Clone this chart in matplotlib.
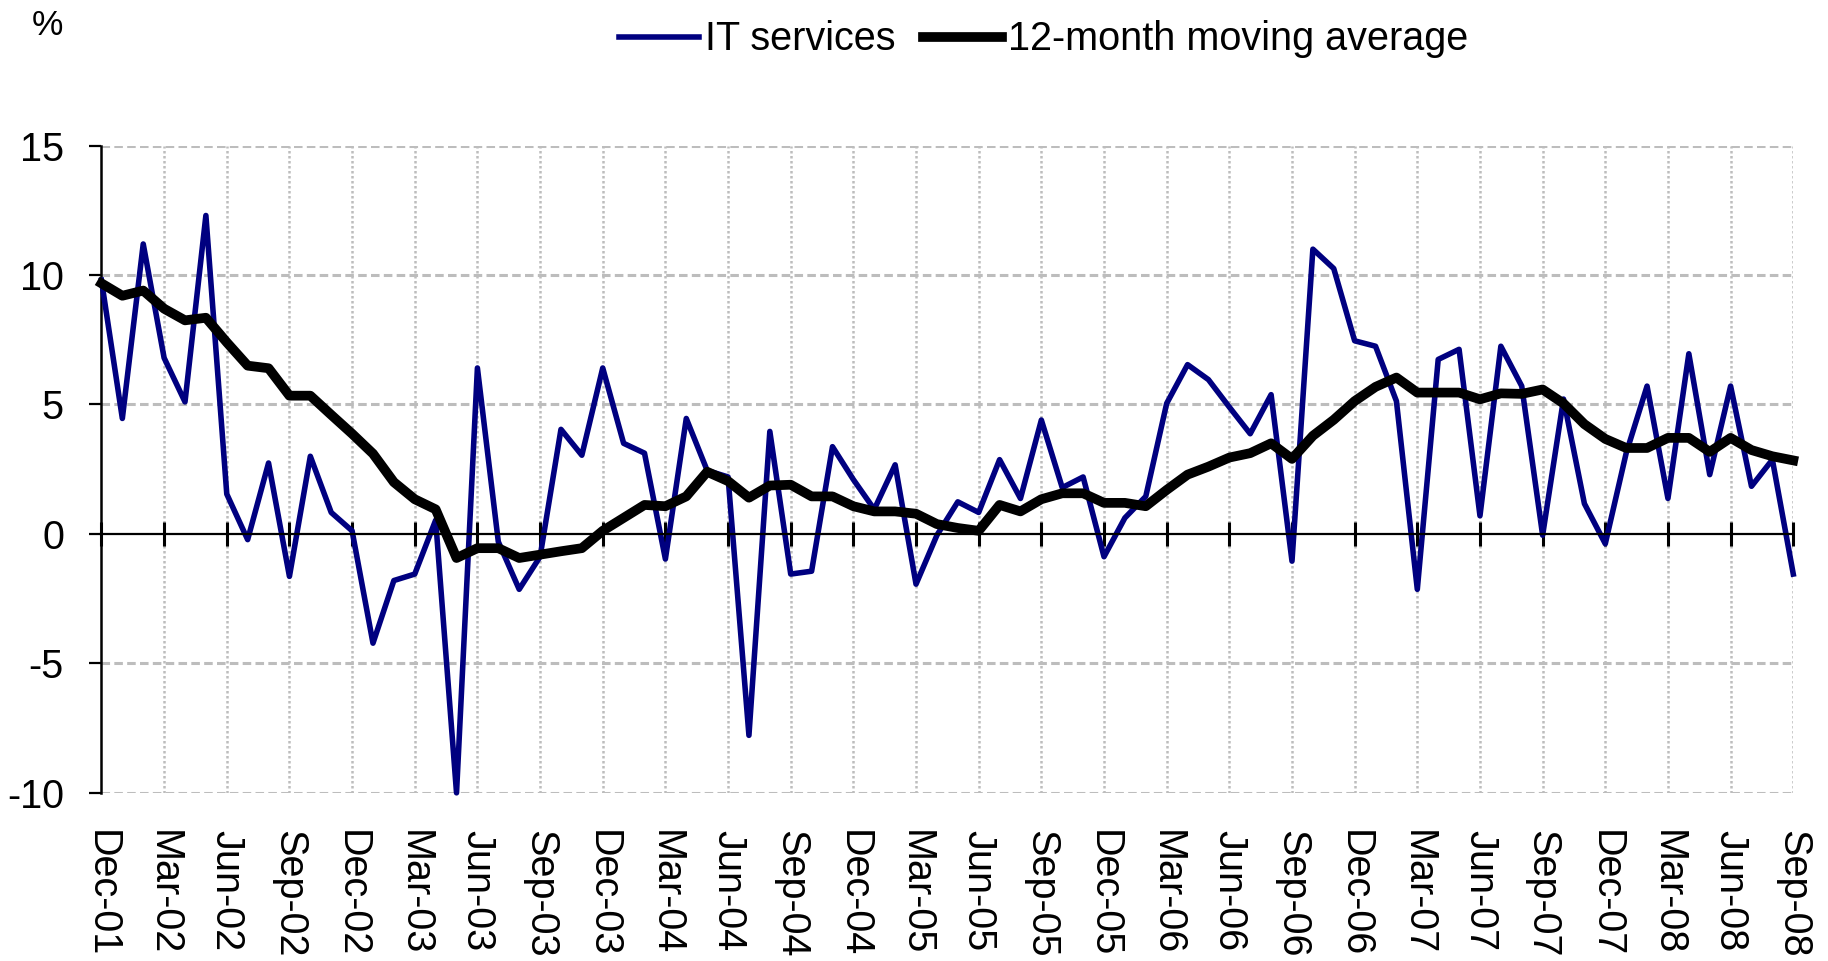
import numpy as np
import matplotlib

matplotlib.use("Agg")
import matplotlib.pyplot as plt

plt.rcParams["font.family"] = ["Liberation Sans", "DejaVu Sans"]
plt.rcParams["axes.unicode_minus"] = False

# monthly % change, Dec-01 .. Sep-08
it_services = [
    9.8, 4.46, 11.2, 6.8, 5.1, 12.3, 1.54, -0.22, 2.74, -1.64, 3.0, 0.83,
    0.12, -4.22, -1.8, -1.55, 0.53, -10.0, 6.41, -0.3, -2.14, -0.88, 4.04, 3.04,
    6.41, 3.5, 3.12, -0.97, 4.46, 2.45, 2.2, -7.78, 3.96, -1.55, -1.44, 3.37,
    2.1, 0.95, 2.67, -1.94, -0.05, 1.24, 0.83, 2.87, 1.37, 4.4, 1.79, 2.2,
    -0.88, 0.62, 1.45, 5.04, 6.54, 5.96, 4.9, 3.87, 5.38, -1.05, 11.0, 10.25,
    7.46, 7.25, 5.13, -2.14, 6.74, 7.13, 0.7, 7.25, 5.71, -0.05, 5.21, 1.17,
    -0.38, 3.12, 5.71, 1.37, 6.96, 2.29, 5.71, 1.84, 2.87, -1.55,
]
moving_avg = [
    9.68, 9.2, 9.4, 8.7, 8.25, 8.35, 7.4, 6.5, 6.4, 5.34, 5.34, 4.6,
    3.87, 3.1, 2.0, 1.34, 0.95, -0.93, -0.55, -0.55, -0.93, -0.8, -0.67, -0.55,
    0.12, 0.62, 1.12, 1.07, 1.45, 2.4, 2.04, 1.4, 1.87, 1.9, 1.45, 1.45,
    1.07, 0.87, 0.87, 0.78, 0.38, 0.23, 0.12, 1.12, 0.87, 1.34, 1.57, 1.57,
    1.2, 1.2, 1.07, 1.7, 2.29, 2.6, 2.95, 3.12, 3.5, 2.9, 3.79, 4.41,
    5.13, 5.68, 6.04, 5.46, 5.46, 5.46, 5.2, 5.43, 5.41, 5.58, 5.04, 4.24,
    3.67, 3.32, 3.32, 3.71, 3.71, 3.17, 3.71, 3.24, 3.0, 2.84,
]
tick_labels = [
    "Dec-01", "Mar-02", "Jun-02", "Sep-02", "Dec-02", "Mar-03", "Jun-03",
    "Sep-03", "Dec-03", "Mar-04", "Jun-04", "Sep-04", "Dec-04", "Mar-05",
    "Jun-05", "Sep-05", "Dec-05", "Mar-06", "Jun-06", "Sep-06", "Dec-06",
    "Mar-07", "Jun-07", "Sep-07", "Dec-07", "Mar-08", "Jun-08", "Sep-08",
]
y_ticks = [-10, -5, 0, 5, 10, 15]

FS = 28.5
grid_col = "#bdbdbd"

x = np.arange(len(it_services))
x_ticks = x[::3]
ymin, ymax = -10, 15

fig = plt.figure(figsize=(18.28, 9.61), dpi=100)
ax = fig.add_axes([0.0555, 0.175, 0.9255, 0.6735])

# grid
for yv in y_ticks:
    if yv != 0:
        ax.axhline(yv, color=grid_col, lw=2.2, ls=(0, (2.8, 1.4)), zorder=1)
for xv in x_ticks[1:]:
    ax.axvline(xv, color=grid_col, lw=1.8, ls=(0, (1, 1)), zorder=1)

ax.plot(x, it_services, color="#000080", lw=4.0, label="IT services",
        zorder=3, clip_on=False)
ax.plot(x, moving_avg, color="black", lw=7.0, label="12-month moving average",
        zorder=4, clip_on=False)

ax.set_xlim(x[0], x[-1])
ax.set_ylim(ymin, ymax)

for s in ["top", "right"]:
    ax.spines[s].set_visible(False)
ax.spines["left"].set_linewidth(1.8)

# zero line carries the crossing ticks
ax.spines["bottom"].set_position(("data", 0))
ax.spines["bottom"].set_linewidth(1.6)
ax.spines["bottom"].set_zorder(5)

ax.set_yticks(y_ticks)
ax.set_yticklabels([str(v) for v in y_ticks])
ax.tick_params(axis="y", direction="out", length=9, width=1.6, pad=18,
               labelsize=FS)

ax.set_xticks(x_ticks)
ax.tick_params(axis="x", direction="inout", length=17, width=2.2,
               labelbottom=False)

# labels at the bottom of the plot
lab_ax = ax.secondary_xaxis(0)
lab_ax.set_xticks(x_ticks)
lab_ax.set_xticklabels(tick_labels, rotation=-90)
lab_ax.tick_params(axis="x", length=0, pad=27, labelsize=FS)
lab_ax.spines["bottom"].set_visible(False)

fig.text(0.0257, 0.973, "%", fontsize=FS - 3, ha="center", va="center")

fig.legend(loc="center", bbox_to_anchor=(0.571, 0.959), ncol=2,
           frameon=False, fontsize=FS, handlelength=2.0, handletextpad=0.15,
           columnspacing=0.7)

fig.savefig("out.png", dpi=100)
